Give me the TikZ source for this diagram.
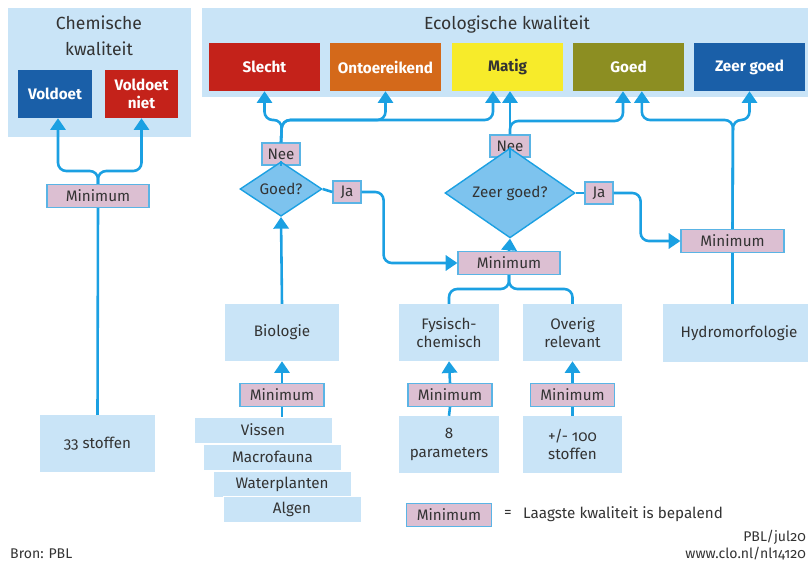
\documentclass[tikz,border=0pt]{standalone}
\usepackage{fontspec}
\setmainfont[Numbers=OldStyle]{Fira Sans}
\usetikzlibrary{arrows.meta,shapes.geometric,positioning}
\definecolor{lichtblauw}{HTML}{C9E4F7}
\definecolor{pijlblauw}{HTML}{1BA0E2}
\definecolor{randblauw}{HTML}{5AB4E5}
\definecolor{ruitblauw}{HTML}{7DC3EE}
\definecolor{roze}{HTML}{DCBFD2}
\definecolor{tekst}{HTML}{333333}
\definecolor{donkerblauw}{HTML}{1A5FA8}
\definecolor{rood}{HTML}{C4221A}
\definecolor{oranje}{HTML}{D4691A}
\definecolor{geel}{HTML}{F7EB2A}
\definecolor{olijf}{HTML}{8C8E22}
\tikzset{font=\fontsize{13}{15.5}\selectfont}
\tikzstyle{klasse}=[rectangle,minimum width=3.33cm,minimum height=1.44cm,inner sep=0pt,text=white,font=\bfseries\fontsize{13}{15.5}\selectfont,align=center]
\tikzstyle{mini}=[rectangle,fill=roze,draw=randblauw,line width=1pt,minimum height=0.69cm,inner sep=0pt,text=tekst]
\tikzstyle{keuze}=[diamond,fill=ruitblauw,draw=pijlblauw,line width=1.2pt,inner sep=0pt,text=tekst]
\tikzstyle{blok}=[rectangle,fill=lichtblauw,text=tekst,align=center,inner sep=0pt,minimum height=1.71cm]
\tikzstyle{laag}=[rectangle,fill=lichtblauw,draw=white,line width=0.6pt,text=tekst,inner sep=0pt,minimum width=4.14cm,minimum height=0.78cm]
\tikzstyle{lijn}=[draw=pijlblauw,line width=2.2pt,rounded corners=7pt]
\tikzstyle{pijl}=[lijn,-{Triangle[width=13pt,length=10pt]}]

\begin{document}
\begin{tikzpicture}
  [x=0.03cm,y=-0.03cm]
  \useasboundingbox (0,0) rectangle (808,565);
  \clip (0,0) rectangle (808,565);
  \fill[lichtblauw] (8,8) rectangle (191,137);
  \fill[lichtblauw] (202,8) rectangle (815,97);
  \node[text=tekst,align=center,font=\fontsize{15}{22}\selectfont] (chemtitel) at (99,36) {Chemische\\kwaliteit};
  \node[text=tekst,font=\fontsize{15}{17}\selectfont] (ecotitel) at (507,25) {Ecologische kwaliteit};
  \node[klasse,fill=donkerblauw,minimum width=2.22cm] (vold) at (55,94) {Voldoet};
  \node[klasse,fill=rood,minimum width=2.19cm] (voldniet) at (141.5,94) {Voldoet\\niet};
  \node[klasse,fill=rood] (slecht) at (264.5,67) {Slecht};
  \node[klasse,fill=oranje] (ont) at (385.5,67) {Ontoereikend};
  \node[klasse,fill=geel,text=tekst] (matig) at (507.5,67) {Matig};
  \node[klasse,fill=olijf] (goed) at (628.5,67) {Goed};
  \node[klasse,fill=donkerblauw] (zg) at (749.5,67) {Zeer goed};

  \node[mini,minimum width=3.06cm] (minL) at (98,196) {Minimum};
  \node[blok,minimum width=3.45cm] (stof33) at (97.5,443.5) {33 stoffen};

  \node[mini,minimum width=1.14cm,minimum height=0.66cm] (neeL) at (281,154) {Nee};
  \node[keuze,minimum width=2.46cm,minimum height=1.44cm] (goedq) at (281,189) {Goed?};
  \node[mini,minimum width=0.84cm,minimum height=0.66cm] (jaL) at (347,192) {Ja};
  \node[mini,minimum width=1.2cm,minimum height=0.66cm] (neeR) at (510,146) {Nee};
  \node[keuze,minimum width=3.9cm,minimum height=2.01cm] (zgq) at (510,193) {Zeer goed?};
  \node[mini,minimum width=0.84cm,minimum height=0.66cm] (jaR) at (599,193) {Ja};
  \node[mini,minimum width=3.06cm] (minC) at (509,263) {Minimum};
  \node[mini,minimum width=3.09cm] (minR) at (732.5,241) {Minimum};

  \node[blok,minimum width=3.42cm] (bio) at (282,332.5) {Biologie};
  \node[blok,minimum width=3.0cm] (fys) at (449,332.5) {Fysisch-\\chemisch};
  \node[blok,minimum width=2.97cm] (ov) at (572.5,332.5) {Overig\\relevant};
  \node[blok,minimum width=4.56cm] (hydro) at (739,333) {Hydromorfologie};
  \node[mini,minimum width=2.52cm] (minB) at (282,395) {Minimum};
  \node[mini,minimum width=2.52cm] (minF) at (450,395) {Minimum};
  \node[mini,minimum width=2.52cm] (minO) at (572.5,395) {Minimum};
  \node[blok,minimum width=3.0cm] (par) at (449,444.5) {8\\parameters};
  \node[blok,minimum width=2.97cm] (st100) at (572.5,444.5) {+/- 100\\stoffen};
  \node[laag] (vissen) at (263,430) {Vissen};
  \node[laag] (macro) at (272.5,457) {Macrofauna};
  \node[laag] (water) at (282,484) {Waterplanten};
  \node[laag] (algen) at (292,509.5) {Algen};

  \node[mini,minimum width=2.55cm] (minLeg) at (449,515) {Minimum};
  \node[text=tekst] (is) at (508,514) {=};
  \node[text=tekst,anchor=west,inner sep=0pt] (uitleg) at (523,514) {Laagste kwaliteit is bepalend};
  \node[text=tekst,anchor=west,inner sep=0pt,font=\fontsize{12}{14}\selectfont] (bron) at (10,554) {Bron: PBL};
  \node[text=tekst,anchor=east,inner sep=0pt,font=\fontsize{12}{14}\selectfont] (datum) at (806,537) {PBL/jul20};
  \node[text=tekst,anchor=east,inner sep=0pt,font=\fontsize{12}{14}\selectfont] (url) at (806,554) {www.clo.nl/nl14120};

  \coordinate (splitC) at (98,171);
  \coordinate (splitL) at (282,120);
  \coordinate (splitR) at (510,121);
  \coordinate (splitH) at (733,120);
  \coordinate (splitM) at (509,289);

  \draw[pijl] (minL.north) -- (splitC) -| ([xshift=0.09cm]vold.south);
  \draw[pijl] (minL.north) -- (splitC) -| (voldniet.south);
  \draw[lijn] (stof33.north) -- (minL.south);

  \draw[pijl] (neeL.north) -- (splitL) -| (slecht.south);
  \draw[pijl] (neeL.north) -- (splitL) -| (ont.south);
  \draw[pijl] (neeL.north) -- (splitL) -| ([xshift=-0.435cm]matig.south);
  \draw[pijl] (neeR.north) -- (neeR.north |- matig.south);
  \draw[pijl] (neeR.north) -- (splitR) -| ([xshift=-0.165cm]goed.south);
  \draw[pijl] (minR.north) -- (splitH) -| ([xshift=0.4cm]goed.south);
  \draw[pijl] (minR.north) -- (splitH) -| (zg.south);

  \draw[lijn] (goedq.north) -- (neeL.south);
  \draw[lijn] (goedq.east) -- (jaL.west);
  \draw[pijl] (jaL.east) -- ++(22,0) |- (minC.west);
  \draw[lijn] (zgq.north) -- (neeR.south);
  \draw[lijn] (zgq.east) -- (jaR.west);
  \draw[pijl] (jaR.east) -- ++(27,0) |- (minR.west);
  \draw[pijl] (minC.north) -- (zgq.south);
  \draw[pijl] (bio.north) -- (goedq.south);
  \draw[lijn] (minC.south) -- (splitM) -| (fys.north);
  \draw[lijn] (minC.south) -- (splitM) -| (ov.north);
  \draw[lijn] (hydro.north -| minR.south) -- (minR.south);

  \draw[pijl] (minB.north) -- (bio.south);
  \draw[pijl] (minF.north) -- (fys.south);
  \draw[pijl] (minO.north) -- (ov.south);
  \draw[lijn] (minB.south) -- (minB.south |- vissen.north);
  \draw[lijn] (par.north) -- (minF.south);
  \draw[lijn] (st100.north) -- (minO.south);
\end{tikzpicture}
\end{document}
